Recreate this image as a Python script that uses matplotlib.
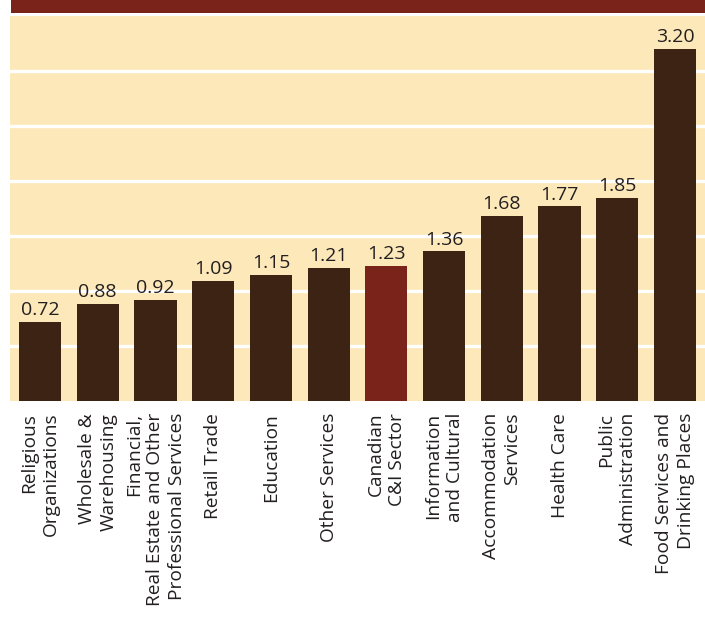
import matplotlib
matplotlib.use("Agg")
import matplotlib.pyplot as plt
from matplotlib.patches import Rectangle

categories = [
    "Religious\nOrganizations",
    "Wholesale &\nWarehousing",
    "Financial,\nReal Estate and Other\nProfessional Services",
    "Retail Trade",
    "Education",
    "Other Services",
    "Canadian\nC&I Sector",
    "Information\nand Cultural",
    "Accommodation\nServices",
    "Health Care",
    "Public\nAdministration",
    "Food Services and\nDrinking Places",
]
values = [0.72, 0.88, 0.92, 1.09, 1.15, 1.21, 1.23, 1.36, 1.68, 1.77, 1.85, 3.20]
value_labels = ["0.72", "0.88", "0.92", "1.09", "1.15", "1.21", "1.23", "1.36", "1.68", "1.77", "1.85", "3.20"]
highlight = "Canadian\nC&I Sector"

BROWN = "#3D2314"
RED = "#79231A"
CREAM = "#FDE8B9"
TEXT = "#231F20"

plt.rcParams['font.family'] = ['Open Sans', 'DejaVu Sans']

W, H = 705, 623
fig = plt.figure(figsize=(W / 100, H / 100), dpi=100)
fig.patch.set_facecolor("white")

ax = fig.add_axes([10 / W, (H - 401) / H, 695 / W, (401 - 16) / H])
ax.set_facecolor(CREAM)

# top band
fig.patches.append(Rectangle((11 / W, (H - 13) / H), (W - 11) / W, 13 / H,
                             transform=fig.transFigure, facecolor=RED,
                             edgecolor="none", zorder=0))

x = list(range(len(categories)))
colors = [RED if c == highlight else BROWN for c in categories]
bars = ax.bar(x, values, width=0.73, color=colors, zorder=3)

for xi, v, lab in zip(x, values, value_labels):
    ax.annotate(lab, (xi, v), xytext=(0, 2), textcoords="offset points",
                ha="center", va="bottom", fontsize=14, color=TEXT)

ax.set_xlim(-0.52, len(categories) - 0.48)
ax.set_ylim(0, 3.5)
ax.set_yticks([0.5, 1.0, 1.5, 2.0, 2.5, 3.0])
ax.yaxis.grid(True, color="white", linewidth=2.4, zorder=1)
ax.set_axisbelow(True)
ax.tick_params(axis="y", left=False, labelleft=False)
ax.tick_params(axis="x", bottom=False, pad=5)
ax.set_xticks(x)
ax.set_xticklabels(categories, rotation=90, ha="center", va="top",
                   multialignment="right", fontsize=13.8, color=TEXT,
                   linespacing=1.25)
for s in ax.spines.values():
    s.set_visible(False)

fig.savefig("out.png", dpi=100, facecolor="white")
